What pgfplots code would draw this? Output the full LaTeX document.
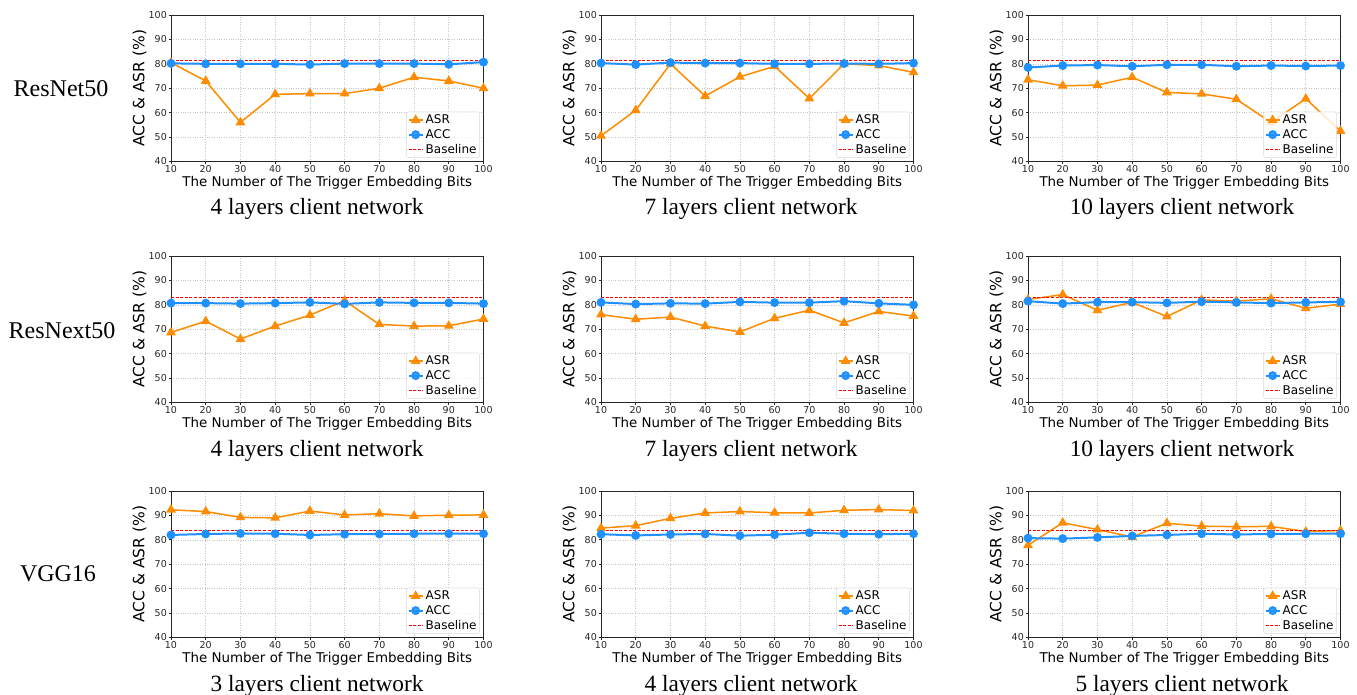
\documentclass[border=0pt]{standalone}
\usepackage{fontspec}
\setmainfont{DejaVu Sans}
\newfontfamily\serifont{Liberation Serif}
\usepackage{pgfplots}
\pgfplotsset{compat=1.18}
\definecolor{asrc}{RGB}{255,140,0}
\definecolor{accc}{RGB}{30,144,255}
\pgfplotsset{
 panel/.style={
  scale only axis, width=312.5pt, height=146.5pt,
  anchor=north west,
  xmin=10,xmax=100,ymin=40,ymax=100,
  xtick={10,20,...,100}, ytick={40,50,...,100},
  grid=major, grid style={gray!45, dotted, line width=0.6pt},
  axis line style={black!85, line width=0.7pt},
  tick style={black!85, line width=0.7pt},
  tick align=outside, tick pos=left, major tick length=2.5pt,
  /pgf/number format/assume math mode=true,
  tick label style={font=\fontsize{9.5}{9.5}\selectfont, text=black!85},
  xticklabel style={inner sep=1pt},
  yticklabel style={inner sep=1.5pt},
  xlabel={The Number of The Trigger Embedding Bits},
  ylabel={ACC \& ASR (\%)},
  xlabel style={font=\fontsize{13.4}{13.4}\selectfont, inner sep=0pt, yshift=-3pt},
  ylabel style={font=\fontsize{15.5}{15.5}\selectfont, inner sep=0pt, yshift=0.5pt},
  legend cell align=left,
  legend style={at={(0.988,0.025)}, anchor=south east, font=\fontsize{12}{12}\selectfont, draw=black!15, rounded corners=2pt, fill=white, fill opacity=0.8, text opacity=1, inner sep=1pt, row sep=0.2pt},
  legend image code/.code={\draw[mark repeat=2, mark phase=2] plot coordinates {(0pt,0pt) (7pt,0pt) (14pt,0pt)};},
 },
 asr/.style={asrc, line width=1.5pt, mark=triangle*, mark size=4.2pt, mark options={solid}},
 acc/.style={accc, line width=2pt, mark=*, mark size=3.4pt, mark options={solid}},
 base/.style={red, line width=1pt, dash pattern=on 3pt off 1.6pt, mark=none},
}
\newcommand{\panel}[4]{%
 \begin{axis}[panel, at={(#1)}]
 \addplot[asr] coordinates {#2};
 \addlegendentry{ASR}
 \addplot[acc] coordinates {#3};
 \addlegendentry{ACC}
 \addplot[base] coordinates {(10,#4) (100,#4)};
 \addlegendentry{Baseline}
 \end{axis}}
\begin{document}
\begin{tikzpicture}
\useasboundingbox (0,0) rectangle (1357pt,-694pt);
% Row 1: ResNet50
\panel{171pt,-15pt}{(10,80.5) (20,73) (30,56) (40,67.5) (50,67.8) (60,67.8) (70,70) (80,74.5) (90,73) (100,70)}{(10,80.2) (20,80) (30,80) (40,80) (50,79.7) (60,80.1) (70,80.1) (80,80.1) (90,79.8) (100,80.7)}{81.3}
\panel{601pt,-15pt}{(10,50.5) (20,61) (30,80) (40,66.8) (50,74.7) (60,79) (70,65.8) (80,80) (90,79.3) (100,76.5)}{(10,80.3) (20,79.7) (30,80.5) (40,80.3) (50,80.3) (60,80) (70,80) (80,80.1) (90,80) (100,80.3)}{81.3}
\panel{1028pt,-15pt}{(10,73.5) (20,71) (30,71.3) (40,74.5) (50,68.3) (60,67.7) (70,65.5) (80,56) (90,65.7) (100,52.5)}{(10,78.5) (20,79.3) (30,79.5) (40,79) (50,79.6) (60,79.6) (70,79) (80,79.3) (90,79.1) (100,79.3)}{81.3}
% Row 2: ResNext50
\panel{171pt,-256pt}{(10,68.7) (20,73.3) (30,66) (40,71.3) (50,75.8) (60,81.7) (70,72) (80,71.3) (90,71.4) (100,74.2)}{(10,80.7) (20,80.7) (30,80.5) (40,80.7) (50,81) (60,80.4) (70,81) (80,80.8) (90,80.8) (100,80.5)}{83}
\panel{601pt,-256pt}{(10,76) (20,74.1) (30,75) (40,71.3) (50,68.9) (60,74.5) (70,77.8) (80,72.6) (90,77.3) (100,75.4)}{(10,81) (20,80.3) (30,80.6) (40,80.5) (50,81.2) (60,80.9) (70,80.9) (80,81.5) (90,80.6) (100,80)}{83}
\panel{1028pt,-256pt}{(10,82.2) (20,84.2) (30,77.8) (40,81) (50,75.2) (60,82) (70,81.5) (80,82.5) (90,78.6) (100,80.3)}{(10,81.5) (20,80.5) (30,81.1) (40,81.1) (50,80.8) (60,81.3) (70,81) (80,80.7) (90,81) (100,81.2)}{83}
% Row 3: VGG16
\panel{171pt,-491pt}{(10,92.3) (20,91.6) (30,89.2) (40,89) (50,91.8) (60,90.2) (70,90.7) (80,89.8) (90,90.1) (100,90.2)}{(10,82) (20,82.4) (30,82.6) (40,82.5) (50,82) (60,82.3) (70,82.4) (80,82.5) (90,82.5) (100,82.5)}{83.8}
\panel{601pt,-491pt}{(10,84.8) (20,85.8) (30,88.8) (40,91) (50,91.6) (60,91.1) (70,91) (80,92.1) (90,92.4) (100,92)}{(10,82.3) (20,81.8) (30,82.2) (40,82.4) (50,81.7) (60,82.1) (70,82.9) (80,82.5) (90,82.3) (100,82.5)}{83.8}
\panel{1028pt,-491pt}{(10,77.8) (20,87) (30,84.2) (40,81.2) (50,86.8) (60,85.6) (70,85.4) (80,85.5) (90,83.4) (100,83.8)}{(10,80.7) (20,80.5) (30,81) (40,81.6) (50,82) (60,82.5) (70,82.2) (80,82.4) (90,82.5) (100,82.5)}{83.8}
% subtitles
\begin{scope}[every node/.style={font=\serifont\fontsize{23.3}{23.3}\selectfont, anchor=base, inner sep=0pt}]
\node at (317pt,-214pt) {4 layers client network};
\node at (751pt,-214pt) {7 layers client network};
\node at (1182pt,-214pt) {10 layers client network};
\node at (317pt,-456pt) {4 layers client network};
\node at (751pt,-456pt) {7 layers client network};
\node at (1182pt,-456pt) {10 layers client network};
\node at (317pt,-691pt) {3 layers client network};
\node at (751pt,-691pt) {4 layers client network};
\node at (1182pt,-691pt) {5 layers client network};
\end{scope}
\begin{scope}[every node/.style={font=\serifont\fontsize{24}{24}\selectfont, anchor=base, inner sep=0pt}]
\node at (61pt,-96pt) {ResNet50};
\node at (62pt,-338pt) {ResNext50};
\node at (58pt,-581pt) {VGG16};
\end{scope}
\end{tikzpicture}
\end{document}
